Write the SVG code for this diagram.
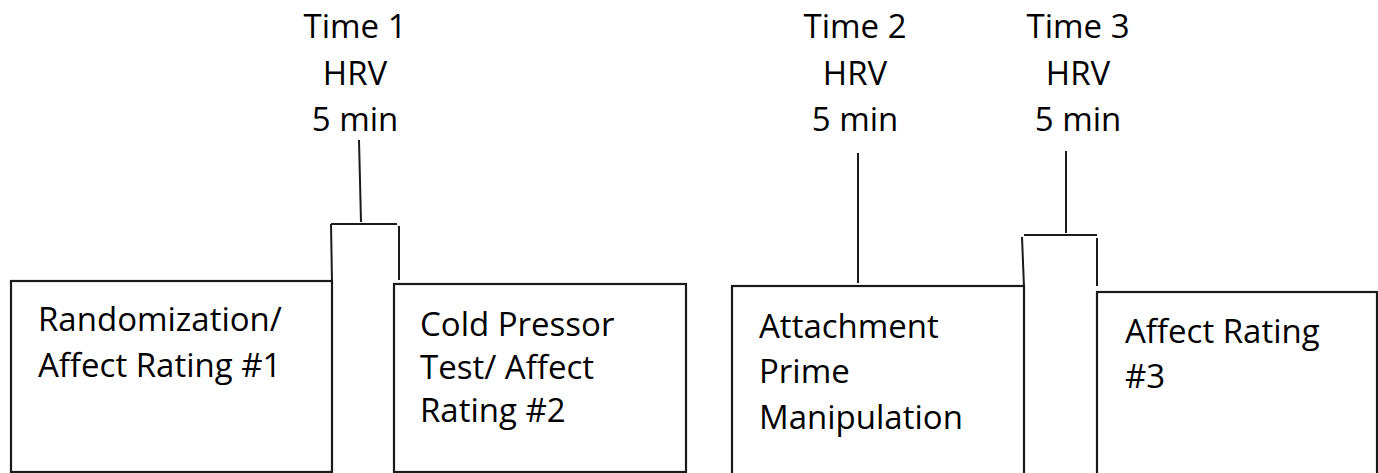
<svg xmlns="http://www.w3.org/2000/svg" width="1378" height="473" viewBox="0 0 1378 473">
<style>
.box{fill:#fff;stroke:#1a1a1a;stroke-width:2.2}
.ln{fill:none;stroke:#1a1a1a;stroke-width:2}
.t{font-family:"Open Sans","Liberation Sans",sans-serif;font-size:33px;fill:#000}
.c{text-anchor:middle}
</style>
<rect width="1378" height="473" fill="#fff"/>
<g id="label-time1">
<text class="t c" x="355" y="38">Time 1</text>
<text class="t c" x="355" y="85">HRV</text>
<text class="t c" x="355" y="131">5 min</text>
</g>
<g id="label-time2">
<text class="t c" x="855" y="38">Time 2</text>
<text class="t c" x="855" y="85">HRV</text>
<text class="t c" x="855" y="131">5 min</text>
</g>
<g id="label-time3">
<text class="t c" x="1078" y="38">Time 3</text>
<text class="t c" x="1078" y="85">HRV</text>
<text class="t c" x="1078" y="131">5 min</text>
</g>
<g id="connectors">
<path class="ln" d="M359 140 L361 222 M331 224 L397 224 M331 224 L332 282 M399 226 L399 280"/>
<path class="ln" d="M858 153 L858 283"/>
<path class="ln" d="M1066 151 L1066 233 M1024 235 L1097 235 M1022 237 L1024 287 M1097 238 L1097 286"/>
</g>
<g id="node-randomization">
<rect class="box" x="11" y="281" width="321" height="191"/>
<text class="t" x="38" y="331">Randomization/</text>
<text class="t" x="38" y="377">Affect Rating #1</text>
</g>
<g id="node-coldpressor">
<rect class="box" x="394" y="284" width="292" height="188"/>
<text class="t" x="420" y="336">Cold Pressor</text>
<text class="t" x="420" y="379">Test/ Affect</text>
<text class="t" x="420" y="422">Rating #2</text>
</g>
<g id="node-attachment">
<rect class="box" x="732" y="286" width="292" height="190"/>
<text class="t" x="759" y="338">Attachment</text>
<text class="t" x="759" y="383">Prime</text>
<text class="t" x="759" y="429">Manipulation</text>
</g>
<g id="node-affect3">
<rect class="box" x="1097" y="292" width="280" height="190"/>
<text class="t" x="1125" y="343">Affect Rating</text>
<text class="t" x="1125" y="388">#3</text>
</g>
</svg>
